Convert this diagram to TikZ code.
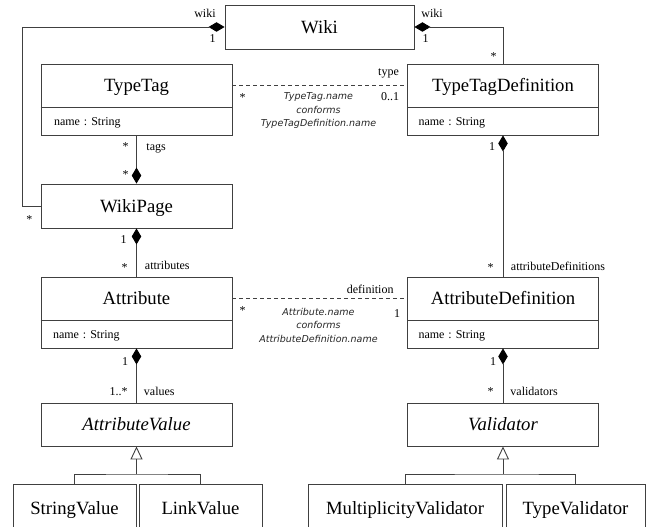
\documentclass[tikz,border=0pt]{standalone}
\usepackage{fontspec}
\setmainfont{Liberation Serif}
\newfontfamily\notefont{DejaVu Sans}
\usetikzlibrary{arrows.meta}
\begin{document}
\begin{tikzpicture}[x=1pt,y=-1pt,
  line width=0.9pt,
  lc/.style={draw=black!75, line width=0.9pt},
  box/.style={draw=black!75, line width=0.9pt, inner sep=0pt, minimum height=44pt,
    font=\fontsize{18.7}{20}\selectfont, text height=12.4pt, text depth=0pt},
  cbox/.style={draw=black!75, line width=0.9pt, inner sep=0pt, minimum height=71pt},
  ctitle/.style={inner sep=0pt, font=\fontsize{18.7}{20}\selectfont, text height=12.4pt, text depth=0pt},
  cattr/.style={inner sep=0pt, anchor=west, font=\fontsize{12}{14}\selectfont, text height=8pt, text depth=0pt},
  lbl/.style={inner sep=0pt, anchor=base, font=\fontsize{12}{14}\selectfont},
  note/.style={inner sep=0pt, align=center, font=\notefont\itshape\fontsize{9.5}{13.5}\selectfont, text=black!85},
  comp/.style={lc, {Diamond[length=16pt,width=9.5pt,color=black]}-},
  compend/.style={lc, -{Diamond[length=16pt,width=9.5pt,color=black]}},
  gen/.style={lc, -{Triangle[open,length=13pt,width=12pt]}},
  dep/.style={lc, dash pattern=on 4pt off 3pt}
]
\useasboundingbox (0,0) rectangle (651,527);
\clip (0,0) rectangle (651,527);

% classes
\node[box, minimum width=189pt] (wiki) at (319.5,27) {Wiki};

\node[cbox, minimum width=191pt] (tt) at (136.5,99.5) {};
\draw[lc] ([yshift=-44pt]tt.north west) -- ([yshift=-44pt]tt.north east);
\node[ctitle] (ttT) at ([yshift=-22pt]tt.north) {TypeTag};
\node[cattr] (ttA) at ([xshift=13pt,yshift=-57.5pt]tt.north west) {name\,\,: String};

\node[cbox, minimum width=191pt] (ttd) at (503,99.5) {};
\draw[lc] ([yshift=-44pt]ttd.north west) -- ([yshift=-44pt]ttd.north east);
\node[ctitle] (ttdT) at ([yshift=-22pt]ttd.north) {TypeTagDefinition};
\node[cattr] (ttdA) at ([xshift=11pt,yshift=-57.5pt]ttd.north west) {name\,\,: String};

\node[box, minimum width=191pt] (wp) at (136.5,206) {WikiPage};

\node[cbox, minimum width=191pt] (attr) at (136.5,312.5) {};
\draw[lc] ([yshift=-44pt]attr.north west) -- ([yshift=-44pt]attr.north east);
\node[ctitle] (attrT) at ([yshift=-22pt]attr.north) {Attribute};
\node[cattr] (attrA) at ([xshift=12pt,yshift=-57.5pt]attr.north west) {name\,\,: String};

\node[cbox, minimum width=191pt] (ad) at (503,312.5) {};
\draw[lc] ([yshift=-44pt]ad.north west) -- ([yshift=-44pt]ad.north east);
\node[ctitle] (adT) at ([yshift=-22pt]ad.north) {AttributeDefinition};
\node[cattr] (adA) at ([xshift=11pt,yshift=-57.5pt]ad.north west) {name\,\,: String};

\node[box, minimum width=191pt, minimum height=43pt] (av) at (136.5,424.5) {\itshape AttributeValue};
\node[box, minimum width=191pt, minimum height=43pt] (val) at (503,424.5) {\itshape Validator};

\node[box, minimum width=123pt, minimum height=48pt] (sv) at (74.5,508) {StringValue};
\node[box, minimum width=123pt, minimum height=48pt] (lv) at (200.5,508) {LinkValue};
\node[box, minimum width=194pt, minimum height=48pt] (mv) at (405,508) {MultiplicityValidator};
\node[box, minimum width=139pt, minimum height=48pt] (tv) at (575.5,508) {TypeValidator};

% connectors
\coordinate (wl) at (22,27);
\draw[comp] (wiki.west) -- (wl) |- (wp.west);
\draw[comp] (wiki.east) -| (ttd.north);
\draw[compend] (tt.south) -- (wp.north);
\draw[comp] (wp.south) -- (attr.north);
\draw[comp] (attr.south) -- (av.north);
\draw[comp] (ttd.south) -- (ad.north);
\draw[comp] (ad.south) -- (val.north);
\draw[dep] ([yshift=14.5pt]tt.east) -- ([yshift=14.5pt]ttd.west);
\draw[dep] ([yshift=14.5pt]attr.east) -- ([yshift=14.5pt]ad.west);

\coordinate (g1) at (136.5,474);
\coordinate (g2) at (503,474);
\draw[gen] (g1) -- (av.south);
\draw[lc] (sv.north) |- (g1) -| (lv.north);
\draw[gen] (g2) -- (val.south);
\draw[lc] (mv.north) |- (g2) -| (tv.north);

% labels
\node[lbl] at (205,18) {wiki};
\node[lbl] at (212.5,43) {1};
\node[lbl] at (432,18) {wiki};
\node[lbl] at (425.5,43) {1};
\node[lbl] at (493.5,61) {*};
\node[lbl] at (388.5,76) {type};
\node[lbl] at (390,100) {0..1};
\node[lbl] at (242.5,101) {*};
\node[lbl] at (125.5,150) {*};
\node[lbl, anchor=base west] at (146,150) {tags};
\node[lbl] at (125.5,178) {*};
\node[lbl] at (29.5,223) {*};
\node[lbl] at (123.5,243) {1};
\node[lbl] at (124.5,271) {*};
\node[lbl, anchor=base west] at (144.5,269) {attributes};
\node[lbl] at (125,365) {1};
\node[lbl, anchor=base east] at (128,395) {1..*};
\node[lbl, anchor=base west] at (143.5,395) {values};
\node[lbl] at (492,150) {1};
\node[lbl] at (490.5,271) {*};
\node[lbl, anchor=base west] at (510.5,270) {attributeDefinitions};
\node[lbl, anchor=base east] at (394,293) {definition};
\node[lbl] at (397,317) {1};
\node[lbl] at (242.5,314) {*};
\node[lbl] at (493,365) {1};
\node[lbl] at (490.5,395) {*};
\node[lbl, anchor=base west] at (510,395) {validators};

\node[note] (n1) at (318.5,111) {TypeTag.name\\conforms\\TypeTagDefinition.name};
\node[note] (n2) at (318.5,325) {Attribute.name\\conforms\\AttributeDefinition.name};
\end{tikzpicture}
\end{document}
